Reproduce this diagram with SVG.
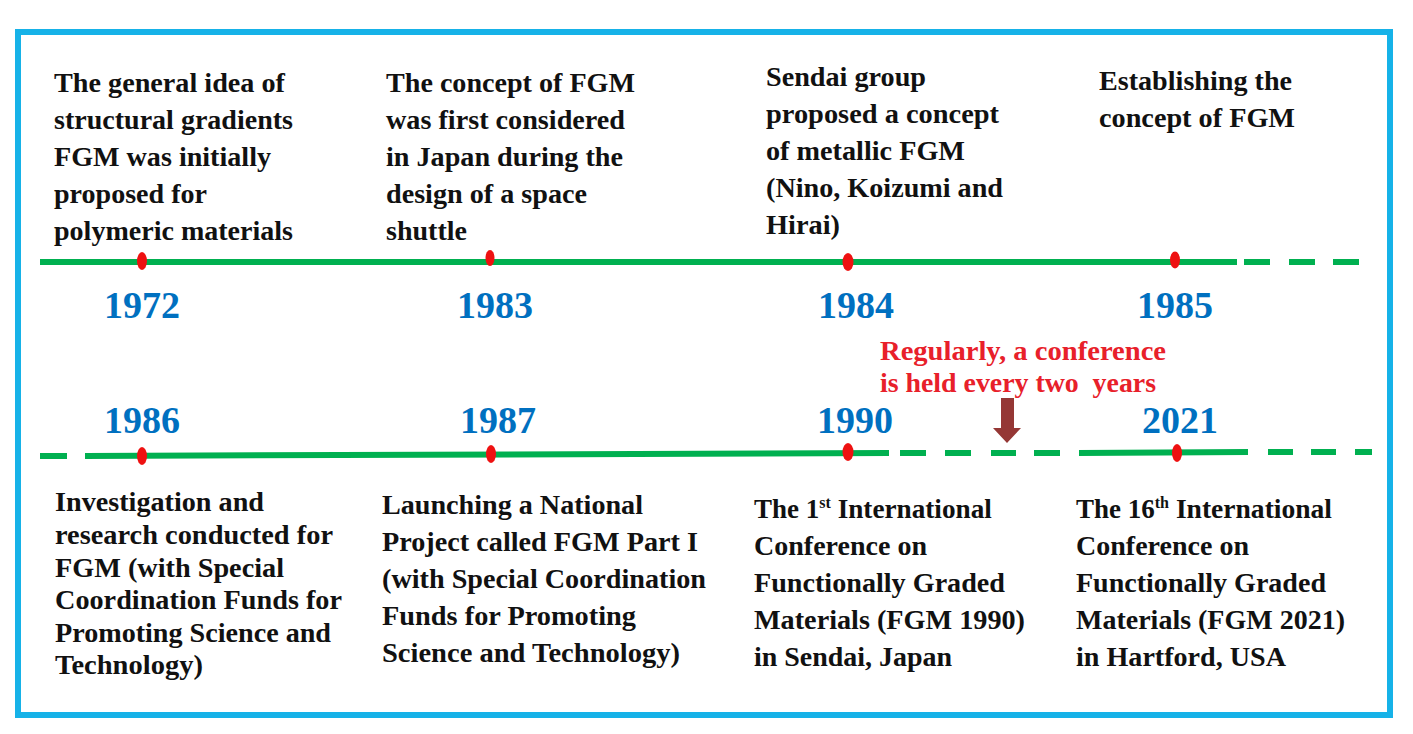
<svg xmlns="http://www.w3.org/2000/svg" width="1413" height="734" viewBox="0 0 1413 734">
<defs>
<style>
.t{font-family:"Liberation Serif","Times New Roman",serif;font-weight:bold;font-size:27px;fill:#111;}
.yr{font-family:"Liberation Serif","Times New Roman",serif;font-weight:bold;font-size:38px;fill:#0070c0;text-anchor:middle;}
.note{font-family:"Liberation Serif","Times New Roman",serif;font-weight:bold;font-size:27px;fill:#e8202a;}
.sup{font-size:16px;}
.dot{fill:#ee1111;}
.ln{stroke:#00b050;stroke-width:6;fill:none;}
</style>
</defs>
<rect x="0" y="0" width="1413" height="734" fill="#ffffff"/>
<rect x="18" y="32" width="1372" height="683" fill="none" stroke="#16b2e8" stroke-width="6"/>

<g id="connectors">
<line class="ln" x1="40" y1="262" x2="1237" y2="262"/>
<line class="ln" x1="1244" y1="262" x2="1270" y2="262"/>
<line class="ln" x1="1289" y1="262" x2="1315" y2="262"/>
<line class="ln" x1="1333" y1="262" x2="1359" y2="262"/>
<line class="ln" x1="40" y1="456" x2="67" y2="456"/>
<line class="ln" x1="85" y1="456" x2="889" y2="453"/>
<line class="ln" x1="900" y1="453" x2="926" y2="453"/>
<line class="ln" x1="945" y1="453" x2="971" y2="453"/>
<line class="ln" x1="991" y1="453" x2="1016" y2="453"/>
<line class="ln" x1="1034" y1="453" x2="1060" y2="453"/>
<line class="ln" x1="1079" y1="453" x2="1248" y2="452"/>
<line class="ln" x1="1268" y1="452" x2="1293" y2="452"/>
<line class="ln" x1="1311" y1="452" x2="1336" y2="452"/>
<line class="ln" x1="1355" y1="452" x2="1372" y2="452"/>
<polygon points="1001,398 1014,398 1014,428 1021,428 1007,443 993,428 1001,428" fill="#953735"/>
</g>

<g id="e1972">
<ellipse class="dot" cx="142" cy="261" rx="5" ry="9"/>
<text class="yr" x="142" y="318">1972</text>
<text class="t" x="54" y="92" textLength="231" lengthAdjust="spacingAndGlyphs">The general idea of</text>
<text class="t" x="54" y="129" textLength="239" lengthAdjust="spacingAndGlyphs">structural gradients</text>
<text class="t" x="54" y="166" textLength="217" lengthAdjust="spacingAndGlyphs">FGM was initially</text>
<text class="t" x="54" y="203" textLength="153" lengthAdjust="spacingAndGlyphs">proposed for</text>
<text class="t" x="54" y="240" textLength="239" lengthAdjust="spacingAndGlyphs">polymeric materials</text>
</g>

<g id="e1983">
<ellipse class="dot" cx="490" cy="258" rx="4.5" ry="8"/>
<text class="yr" x="495" y="318">1983</text>
<text class="t" x="386" y="92" textLength="249" lengthAdjust="spacingAndGlyphs">The concept of FGM</text>
<text class="t" x="386" y="129" textLength="239" lengthAdjust="spacingAndGlyphs">was first considered</text>
<text class="t" x="386" y="166" textLength="237" lengthAdjust="spacingAndGlyphs">in Japan during the</text>
<text class="t" x="386" y="203" textLength="201" lengthAdjust="spacingAndGlyphs">design of a space</text>
<text class="t" x="386" y="240" textLength="81" lengthAdjust="spacingAndGlyphs">shuttle</text>
</g>

<g id="e1984">
<ellipse class="dot" cx="848" cy="262" rx="5.5" ry="9"/>
<text class="yr" x="856" y="318">1984</text>
<text class="t" x="766" y="86" textLength="160" lengthAdjust="spacingAndGlyphs">Sendai group</text>
<text class="t" x="766" y="123" textLength="233" lengthAdjust="spacingAndGlyphs">proposed a concept</text>
<text class="t" x="766" y="160" textLength="199" lengthAdjust="spacingAndGlyphs">of metallic FGM</text>
<text class="t" x="766" y="197" textLength="237" lengthAdjust="spacingAndGlyphs">(Nino, Koizumi and</text>
<text class="t" x="766" y="234" textLength="74" lengthAdjust="spacingAndGlyphs">Hirai)</text>
</g>

<g id="e1985">
<ellipse class="dot" cx="1175" cy="260" rx="5" ry="8.5"/>
<text class="yr" x="1175" y="318">1985</text>
<text class="t" x="1099" y="90" textLength="193" lengthAdjust="spacingAndGlyphs">Establishing the</text>
<text class="t" x="1099" y="127" textLength="196" lengthAdjust="spacingAndGlyphs">concept of FGM</text>
</g>

<g id="note">
<text class="note" x="880" y="360" textLength="286" lengthAdjust="spacingAndGlyphs">Regularly, a conference</text>
<text class="note" x="880" y="392" textLength="276" lengthAdjust="spacingAndGlyphs" xml:space="preserve">is held every two  years</text>
</g>

<g id="e1986">
<ellipse class="dot" cx="142" cy="456" rx="5" ry="9"/>
<text class="yr" x="142" y="433">1986</text>
<text class="t" x="55" y="511" textLength="209" lengthAdjust="spacingAndGlyphs">Investigation and</text>
<text class="t" x="55" y="544" textLength="278" lengthAdjust="spacingAndGlyphs">research conducted for</text>
<text class="t" x="55" y="577" textLength="229" lengthAdjust="spacingAndGlyphs">FGM (with Special</text>
<text class="t" x="55" y="609" textLength="287" lengthAdjust="spacingAndGlyphs">Coordination Funds for</text>
<text class="t" x="55" y="642" textLength="276" lengthAdjust="spacingAndGlyphs">Promoting Science and</text>
<text class="t" x="55" y="674" textLength="148" lengthAdjust="spacingAndGlyphs">Technology)</text>
</g>

<g id="e1987">
<ellipse class="dot" cx="491" cy="454" rx="5" ry="9"/>
<text class="yr" x="498" y="433">1987</text>
<text class="t" x="382" y="514" textLength="261" lengthAdjust="spacingAndGlyphs">Launching a National</text>
<text class="t" x="382" y="551" textLength="316" lengthAdjust="spacingAndGlyphs">Project called FGM Part I</text>
<text class="t" x="382" y="588" textLength="324" lengthAdjust="spacingAndGlyphs">(with Special Coordination</text>
<text class="t" x="382" y="625" textLength="254" lengthAdjust="spacingAndGlyphs">Funds for Promoting</text>
<text class="t" x="382" y="662" textLength="298" lengthAdjust="spacingAndGlyphs">Science and Technology)</text>
</g>

<g id="e1990">
<ellipse class="dot" cx="848" cy="452" rx="5.5" ry="9"/>
<text class="yr" x="855" y="433">1990</text>
<text class="t" x="754" y="518">The 1<tspan class="sup" dy="-10">st</tspan><tspan dy="10" textLength="161" lengthAdjust="spacingAndGlyphs"> International</tspan></text>
<text class="t" x="754" y="555" textLength="173" lengthAdjust="spacingAndGlyphs">Conference on</text>
<text class="t" x="754" y="592" textLength="251" lengthAdjust="spacingAndGlyphs">Functionally Graded</text>
<text class="t" x="754" y="629" textLength="271" lengthAdjust="spacingAndGlyphs">Materials (FGM 1990)</text>
<text class="t" x="754" y="666" textLength="198" lengthAdjust="spacingAndGlyphs">in Sendai, Japan</text>
</g>

<g id="e2021">
<ellipse class="dot" cx="1177" cy="453" rx="5" ry="9"/>
<text class="yr" x="1180" y="433">2021</text>
<text class="t" x="1076" y="518">The 16<tspan class="sup" dy="-10">th</tspan><tspan dy="10" textLength="163" lengthAdjust="spacingAndGlyphs"> International</tspan></text>
<text class="t" x="1076" y="555" textLength="173" lengthAdjust="spacingAndGlyphs">Conference on</text>
<text class="t" x="1076" y="592" textLength="250" lengthAdjust="spacingAndGlyphs">Functionally Graded</text>
<text class="t" x="1076" y="629" textLength="269" lengthAdjust="spacingAndGlyphs">Materials (FGM 2021)</text>
<text class="t" x="1076" y="666" textLength="210" lengthAdjust="spacingAndGlyphs">in Hartford, USA</text>
</g>
</svg>
